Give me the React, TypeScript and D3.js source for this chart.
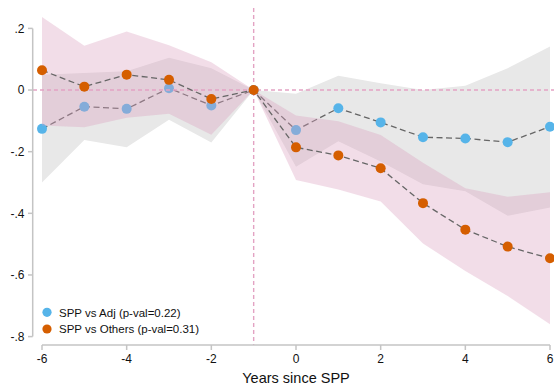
import * as React from 'react';
import * as d3 from 'd3';

// event-study estimates
const years = [-6, -5, -4, -3, -2, -1, 0, 1, 2, 3, 4, 5, 6];

const adj = [-0.126, -0.054, -0.061, 0.006, -0.05, 0, -0.13, -0.059, -0.105, -0.153, -0.157, -0.169, -0.119];
const adjLo = [-0.3, -0.162, -0.186, -0.096, -0.17, 0, -0.249, -0.166, -0.232, -0.306, -0.328, -0.408, -0.381];
const adjHi = [0.05, 0.055, 0.061, 0.105, 0.071, 0, -0.012, 0.046, 0.022, 0.0, 0.014, 0.071, 0.141];

const others = [0.064, 0.011, 0.05, 0.033, -0.029, 0, -0.186, -0.212, -0.254, -0.367, -0.453, -0.508, -0.546];
const othLo = [-0.115, -0.121, -0.09, -0.077, -0.145, 0, -0.292, -0.323, -0.362, -0.498, -0.587, -0.668, -0.76];
const othHi = [0.237, 0.144, 0.19, 0.145, 0.09, 0, -0.083, -0.101, -0.146, -0.236, -0.319, -0.346, -0.332];

const xTicks = [-6, -4, -2, 0, 2, 4, 6];
const yTicks = [0.2, 0, -0.2, -0.4, -0.6, -0.8];

const legendLabels = ['SPP vs Adj (p-val=0.22)', 'SPP vs Others (p-val=0.31)'];

const BLUE = '#56b4e9';
const ORANGE = '#d55e00';
const REF = '#e3a3c3';
const FONT = '"Liberation Sans", Arial, sans-serif';

function fmtY(v: number) {
  if (v === 0) return '0';
  const s = String(Math.round(v * 10) / 10);
  return s.replace('0.', '.');
}

export default function App() {
  const width = 554;
  const height = 388;

  const x = d3.scaleLinear().domain([-6, 6]).range([42, 550]);
  const y = d3.scaleLinear().domain([-0.8, 0.2]).range([336.6, 28.4]);

  const band = (lo: number[], hi: number[]) =>
    d3.area<number>()
      .x((d) => x(d))
      .y0((d, i) => y(lo[i]))
      .y1((d, i) => y(hi[i]))(years) as string;

  const line = (vals: number[]) =>
    d3.line<number>()
      .x((d) => x(d))
      .y((d, i) => y(vals[i]))(years) as string;

  const axisColor = '#c4c4c4';

  return (
    <svg width={width} height={height} style={{position: 'absolute', left: 0, top: 0}} fontFamily={FONT}>
      <rect width={width} height={height} fill="#fff" />

      {/* confidence bands */}
      <path d={band(adjLo, adjHi)} fill="#e8e8e8" />

      {/* SPP vs Adj */}
      <path d={line(adj)} fill="none" stroke="#666" strokeWidth={1.3} strokeDasharray="6,3.5" />
      {years.map((yr, i) => (
        <circle key={'a' + yr} cx={x(yr)} cy={y(adj[i])} r={5} fill={BLUE} />
      ))}

      <path d={band(othLo, othHi)} fill="#da9ebd" fillOpacity={0.35} />

      {/* reference lines */}
      <line x1={33} x2={554} y1={y(0)} y2={y(0)} stroke={REF} strokeWidth={1.4} strokeDasharray="4,3" />
      <line x1={x(-1)} x2={x(-1)} y1={8} y2={345} stroke={REF} strokeWidth={1.4} strokeDasharray="4,3" />

      {/* SPP vs Others */}
      <path d={line(others)} fill="none" stroke="#666" strokeWidth={1.3} strokeDasharray="6,3.5" />
      {years.map((yr, i) => (
        <circle key={'o' + yr} cx={x(yr)} cy={y(others[i])} r={5} fill={ORANGE} />
      ))}

      {/* y axis */}
      <line x1={32.7} x2={32.7} y1={y(0.2)} y2={y(-0.8)} stroke={axisColor} strokeWidth={1.5} />
      {yTicks.map((t) => (
        <g key={'y' + t}>
          <line x1={28} x2={32.7} y1={y(t)} y2={y(t)} stroke={axisColor} strokeWidth={1.5} />
          <text x={24.5} y={y(t) + 4.2} textAnchor="end" fontSize={12} fill="#111">{fmtY(t)}</text>
        </g>
      ))}

      {/* x axis */}
      <line x1={x(-6)} x2={x(6)} y1={345} y2={345} stroke={axisColor} strokeWidth={1.5} />
      {xTicks.map((t) => (
        <g key={'x' + t}>
          <line x1={x(t)} x2={x(t)} y1={345} y2={350} stroke={axisColor} strokeWidth={1.5} />
          <text x={x(t)} y={362.7} textAnchor="middle" fontSize={12} fill="#111">{t}</text>
        </g>
      ))}
      <text x={296} y={382.5} textAnchor="middle" fontSize={14.5} fill="#111">Years since SPP</text>

      {/* legend */}
      {legendLabels.map((lab, i) => (
        <g key={lab}>
          <circle cx={47} cy={312.3 + i * 16.7} r={4.6} fill={i === 0 ? BLUE : ORANGE} />
          <text x={59} y={316.6 + i * 16.7} fontSize={11.5} fill="#111">{lab}</text>
        </g>
      ))}
    </svg>
  );
}
